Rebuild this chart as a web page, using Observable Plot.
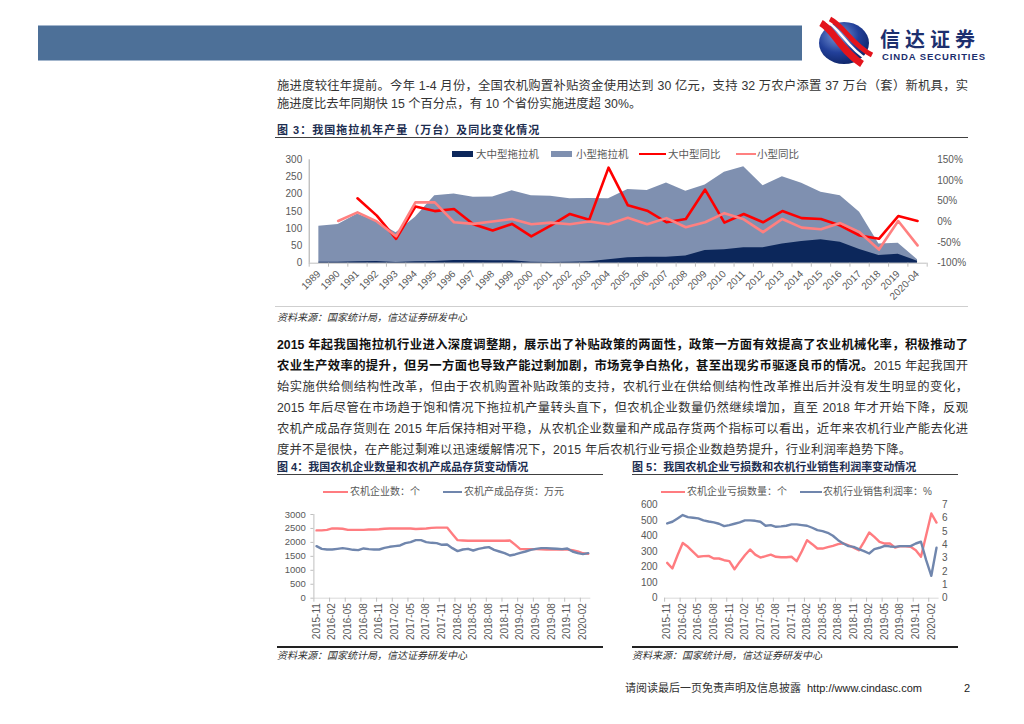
<!DOCTYPE html>
<html><head><meta charset="utf-8">
<script src="https://cdn.jsdelivr.net/npm/d3@7"></script>
<script src="https://cdn.jsdelivr.net/npm/@observablehq/plot@0.6"></script>
<style>
body{margin:0;background:#fff;width:1024px;height:724px;position:relative;overflow:hidden;font-family:"Liberation Sans","Noto Sans CJK SC",sans-serif;}
.abs{position:absolute;white-space:nowrap;}
.tl{position:absolute;left:277px;width:691px;height:16px;line-height:16px;font-size:12.3px;color:#333;text-align:justify;text-align-last:justify;overflow:visible;}
.tl.last{text-align-last:left;}
.tl b{color:#111;}
.ftitle{position:absolute;font-size:11px;font-weight:bold;color:#1c2d50;white-space:nowrap;line-height:14px;}
.src{position:absolute;font-size:10px;font-style:italic;color:#333;white-space:nowrap;line-height:12px;}
.lg{position:absolute;font-size:10px;color:#595959;white-space:nowrap;line-height:12px;}
.sw{position:absolute;}
svg{overflow:visible;}
</style></head><body>

<!-- header -->
<div class="abs" style="left:38px;top:25px;width:764px;height:34px;background:#4d7098;border-top:1px solid #a3b6cd;border-bottom:1px solid #a3b6cd;"></div>
<svg class="abs" style="left:812px;top:18px" width="190" height="50">
 <defs><radialGradient id="lg1" cx="38%" cy="32%" r="75%"><stop offset="0" stop-color="#7c9bd8"/><stop offset="0.55" stop-color="#22409a"/><stop offset="1" stop-color="#0c2262"/></radialGradient></defs>
 <ellipse cx="32" cy="25" rx="25" ry="21" fill="url(#lg1)"/>
 <path d="M9 5 C 22 12, 28 32, 50 46" stroke="#e3141c" stroke-width="7" fill="none"/>
 <path d="M14 3 C 28 10, 35 30, 56 42" stroke="#ffffff" stroke-width="2.5" fill="none"/>
 <path d="M18 1 C 32 8, 40 27, 60 37" stroke="#e3141c" stroke-width="5" fill="none"/>
 <text x="68" y="29" font-size="20" font-weight="bold" fill="#1c2f6e" font-family="Noto Sans CJK SC" letter-spacing="5">信达证券</text>
 <text x="70" y="42" font-size="9.5" font-weight="bold" fill="#1c2f6e" font-family="Liberation Sans" textLength="103">CINDA SECURITIES</text>
</svg>

<!-- paragraph 1 -->
<div class="tl" style="top:78px">施进度较往年提前。今年 1-4 月份，全国农机购置补贴资金使用达到 30 亿元，支持 32 万农户添置 37 万台（套）新机具，实</div>
<div class="tl last" style="top:96px">施进度比去年同期快 15 个百分点，有 10 个省份实施进度超 30%。</div>

<!-- figure 3 -->
<div class="ftitle" style="left:277px;top:123px;letter-spacing:1px">图 3：我国拖拉机年产量（万台）及同比变化情况</div>
<div class="abs" style="left:275px;top:137px;width:693px;height:1px;background:#404040"></div>
<div id="legend3"></div>
<div id="chart3" class="abs" style="left:270px;top:140px"></div>
<div class="abs" style="left:275px;top:306px;width:693px;height:1px;background:#cfcfcf"></div>
<div class="src" style="left:277px;top:312px">资料来源：国家统计局，信达证券研发中心</div>

<!-- paragraph 2 -->
<div class="tl" style="top:337px"><b>2015 年起我国拖拉机行业进入深度调整期，展示出了补贴政策的两面性，政策一方面有效提高了农业机械化率，积极推动了</b></div>
<div class="tl" style="top:358px"><b>农业生产效率的提升，但另一方面也导致产能过剩加剧，市场竞争白热化，甚至出现劣币驱逐良币的情况。</b>2015 年起我国开</div>
<div class="tl" style="top:379px">始实施供给侧结构性改革，但由于农机购置补贴政策的支持，农机行业在供给侧结构性改革推出后并没有发生明显的变化，</div>
<div class="tl" style="top:400px">2015 年后尽管在市场趋于饱和情况下拖拉机产量转头直下，但农机企业数量仍然继续增加，直至 2018 年才开始下降，反观</div>
<div class="tl" style="top:421px">农机产成品存货则在 2015 年后保持相对平稳，从农机企业数量和产成品存货两个指标可以看出，近年来农机行业产能去化进</div>
<div class="tl last" style="top:442px;letter-spacing:0.25px">度并不是很快，在产能过剩难以迅速缓解情况下，2015 年后农机行业亏损企业数趋势提升，行业利润率趋势下降。</div>

<!-- figure 4 -->
<div class="ftitle" style="left:277px;top:460px">图 4：我国农机企业数量和农机产成品存货变动情况</div>
<div class="abs" style="left:277px;top:474px;width:326px;height:1px;background:#404040"></div>
<div id="chart4" class="abs" style="left:270px;top:490px"></div>
<div id="legend4"></div>
<div class="abs" style="left:277px;top:646px;width:326px;height:2px;background:#222"></div>
<div class="src" style="left:277px;top:650px">资料来源：国家统计局，信达证券研发中心</div>

<!-- figure 5 -->
<div class="ftitle" style="left:632px;top:460px">图 5：我国农机企业亏损数和农机行业销售利润率变动情况</div>
<div class="abs" style="left:632px;top:474px;width:326px;height:1px;background:#404040"></div>
<div id="chart5" class="abs" style="left:625px;top:490px"></div>
<div id="legend5"></div>
<div class="abs" style="left:632px;top:646px;width:326px;height:2px;background:#222"></div>
<div class="src" style="left:632px;top:650px">资料来源：国家统计局，信达证券研发中心</div>

<!-- footer -->
<div class="abs" style="left:625px;top:681px;font-size:11px;color:#333;line-height:14px">请阅读最后一页免责声明及信息披露</div>
<div class="abs" style="left:807px;top:681px;font-size:11px;color:#222;line-height:14px">http://www.cindasc.com</div>
<div class="abs" style="left:964px;top:681px;font-size:11px;color:#222;line-height:14px">2</div>

<script>
// ---------- Figure 3 data ----------
const years = ["1989","1990","1991","1992","1993","1994","1995","1996","1997","1998","1999","2000","2001","2002","2003","2004","2005","2006","2007","2008","2009","2010","2011","2012","2013","2014","2015","2016","2017","2018","2019","2020-04"];
const smallTractors = [107,112,143,120,88,133,196,201,191,192,210,196,194,187,188,187,214,211,233,209,227,264,280,225,251,232,206,196,148,56,58,10];
const largeTractors = [3,3,4,5,2,4,5,8,8,7,7,3,2,3,4,10,16,17,17,21,37,39,45,45,56,63,68,61,40,22,26,6];
const largeYoY = [null,null,57,15,-41,37,26,31,-6,-21,-5,-35,-9,19,5,131,40,27,-1,7,78,-2,19,-1,26,9,7,-9,-33,-41,14,2];
const smallYoY = [null,2,23,1,-35,47,47,-1,-5,1,7,-6,-2,-6,1,-6,10,-6,9,-13,-1,21,6,-25,7,-14,-18,-3,-25,-67,2,-57];
const leftTicks3 = [0,50,100,150,200,250,300];
const rightTicks3 = [-100,-50,0,50,100,150];

// ---------- Figure 4 / 5 data ----------
const months = ["2015-11","2015-12","2016-01","2016-02","2016-03","2016-04","2016-05","2016-06","2016-07","2016-08","2016-09","2016-10","2016-11","2016-12",
"2017-01","2017-02","2017-03","2017-04","2017-05","2017-06","2017-07","2017-08","2017-09","2017-10","2017-11","2017-12",
"2018-01","2018-02","2018-03","2018-04","2018-05","2018-06","2018-07","2018-08","2018-09","2018-10","2018-11","2018-12",
"2019-01","2019-02","2019-03","2019-04","2019-05","2019-06","2019-07","2019-08","2019-09","2019-10","2019-11","2019-12",
"2020-01","2020-02","2020-03"];
const firmCount = [2430,2430,2450,2500,2500,2490,2450,2450,2450,2450,2460,2460,2470,2490,2500,2500,2500,2500,2500,2480,2490,2500,2520,2530,2530,2530,2300,2080,2070,2060,2060,2060,2060,2060,2060,2060,2060,2070,1920,1760,1760,1760,1760,1750,1740,1740,1740,1740,1740,1720,1680,1610,1590];
const inventory = [1866,1770,1746,1746,1770,1794,1770,1734,1722,1782,1758,1746,1746,1806,1842,1866,1890,1973,2009,2081,2081,2009,1985,1973,1914,1926,1794,1686,1746,1770,1710,1770,1806,1830,1734,1674,1615,1531,1567,1627,1674,1734,1770,1794,1794,1782,1770,1758,1782,1674,1615,1579,1615];
const lossFirms = [227,191,276,355,330,298,266,270,272,255,255,244,238,186,233,276,313,280,261,270,280,266,263,263,266,238,302,373,347,319,319,328,336,347,353,340,325,308,362,422,394,362,351,351,325,334,334,330,308,266,405,544,486];
const profitRate = [5.6,5.73,5.98,6.23,6.08,6.03,5.98,5.83,5.75,5.68,5.58,5.4,5.48,5.58,5.68,5.83,5.83,5.8,5.73,5.43,5.48,5.35,5.38,5.43,5.53,5.53,5.48,5.43,5.28,5.1,5.03,4.9,4.68,4.35,4.1,3.9,3.85,3.68,3.53,3.35,3.68,3.78,3.93,3.88,3.85,3.9,3.9,3.9,4.1,4.23,2.85,1.68,3.78];
const leftTicks4 = [0,500,1000,1500,2000,2500,3000];
const leftTicks5 = [0,100,200,300,400,500,600];
const rightTicks5 = [0,1,2,3,4,5,6,7];

const FONT = '"Liberation Sans", Arial, "Noto Sans CJK SC", sans-serif';
const TXT = "#595959";

// ---------- Figure 3 ----------
const rows3 = years.map((y, i) => ({i, small: smallTractors[i], large: largeTractors[i], ly: largeYoY[i], sy: smallYoY[i]}));
const pct = p => (p + 100) * 300 / 250;
const xd3 = [-0.5, years.length - 0.5];
const c3 = Plot.plot({
  width: 700, height: 170,
  marginLeft: 38.7, marginRight: 43.3, marginTop: 19.3, marginBottom: 47.3,
  x: {type: "linear", domain: xd3, label: null},
  y: {domain: [0, 300], label: null},
  style: {fontFamily: FONT, fontSize: "10px", color: TXT, background: "transparent", overflow: "visible"},
  marks: [
    Plot.areaY(rows3, {x: "i", y: "small", fill: "#7f90b0"}),
    Plot.areaY(rows3, {x: "i", y: "large", fill: "#0c275b"}),
    Plot.lineY(rows3.filter(d => d.ly != null), {x: "i", y: d => pct(d.ly), stroke: "#ff0000", strokeWidth: 2.6}),
    Plot.lineY(rows3.filter(d => d.sy != null), {x: "i", y: d => pct(d.sy), stroke: "#ff8080", strokeWidth: 2.6}),
    Plot.ruleY([0], {stroke: "#bfbfbf"}),
    Plot.ruleX([xd3[0]], {y1: 0, y2: 300, stroke: "#a6a6a6"}),
    Plot.axisY(leftTicks3, {anchor: "left", tickSize: 0, tickPadding: 7, label: null}),
    Plot.axisY(rightTicks3.map(pct), {anchor: "right", tickSize: 0, tickPadding: 10, label: null, tickFormat: v => Math.round(v * 250 / 300 - 100) + "%"}),
    Plot.axisX(d3.range(years.length), {anchor: "bottom", tickSize: 0, tickPadding: 9, tickRotate: -45, label: null, tickFormat: i => years[i]}),
    Plot.axisX(d3.range(years.length + 1).map(i => i - 0.5), {anchor: "bottom", tickSize: 4, stroke: "#bfbfbf", label: null, tickFormat: () => ""})
  ]
});
document.getElementById("chart3").appendChild(c3);

// ---------- Figure 4 ----------
const xd = [-0.5, months.length - 0.5];
const labelIdx = d3.range(0, months.length, 3);
const bndIdx = d3.range(0, months.length + 1, 3).map(i => i - 0.5);
const rows4 = months.map((m, i) => ({i, a: firmCount[i], b: inventory[i]}));
const c4 = Plot.plot({
  width: 340, height: 160,
  marginLeft: 43.4, marginRight: 19.7, marginTop: 24, marginBottom: 52.3,
  x: {type: "linear", domain: xd, label: null},
  y: {domain: [0, 3000], label: null},
  style: {fontFamily: FONT, fontSize: "10px", color: TXT, background: "transparent", overflow: "visible"},
  marks: [
    Plot.ruleY([0], {stroke: "#d9d9d9"}),
    Plot.ruleX([xd[0]], {y1: 0, y2: 3000, stroke: "#bfbfbf"}),
    Plot.lineY(rows4, {x: "i", y: "a", stroke: "#ff7c80", strokeWidth: 2.4}),
    Plot.lineY(rows4, {x: "i", y: "b", stroke: "#7086ad", strokeWidth: 2.4}),
    Plot.axisY(leftTicks4, {anchor: "left", tickSize: 3, tickPadding: 5, stroke: "#bfbfbf", label: null, fontSize: 9.5, tickFormat: v => String(v)}),
    Plot.axisX(labelIdx, {anchor: "bottom", tickSize: 0, tickPadding: 5, tickRotate: -90, label: null, tickFormat: i => months[i]}),
    Plot.axisX(bndIdx, {anchor: "bottom", tickSize: 4, stroke: "#bfbfbf", label: null, tickFormat: () => ""})
  ]
});
document.getElementById("chart4").appendChild(c4);

// ---------- Figure 5 ----------
const toLeft5 = v => v * 600 / 7;
const rows5 = months.map((m, i) => ({i, a: lossFirms[i], b: profitRate[i]}));
const c5 = Plot.plot({
  width: 340, height: 160,
  marginLeft: 39.1, marginRight: 26.4, marginTop: 14.3, marginBottom: 52.3,
  x: {type: "linear", domain: xd, label: null},
  y: {domain: [0, 600], label: null},
  style: {fontFamily: FONT, fontSize: "10px", color: TXT, background: "transparent", overflow: "visible"},
  marks: [
    Plot.ruleY([0], {stroke: "#d9d9d9"}),
    Plot.lineY(rows5, {x: "i", y: "a", stroke: "#ff7c80", strokeWidth: 2.4}),
    Plot.lineY(rows5, {x: "i", y: d => toLeft5(d.b), stroke: "#7086ad", strokeWidth: 2.4}),
    Plot.axisY(leftTicks5, {anchor: "left", tickSize: 0, tickPadding: 7, label: null, tickFormat: v => String(v)}),
    Plot.axisY(rightTicks5.map(toLeft5), {anchor: "right", tickSize: 0, tickPadding: 3, label: null, tickFormat: v => String(Math.round(v * 7 / 600))}),
    Plot.axisX(labelIdx, {anchor: "bottom", tickSize: 0, tickPadding: 5, tickRotate: -90, label: null, tickFormat: i => months[i]}),
    Plot.axisX(bndIdx, {anchor: "bottom", tickSize: 4, stroke: "#bfbfbf", label: null, tickFormat: () => ""})
  ]
});
document.getElementById("chart5").appendChild(c5);

// ---------- Legends (HTML) ----------
function legend(container, items) {
  const el = document.getElementById(container);
  for (const it of items) {
    const s = document.createElement("div");
    s.className = "sw";
    s.style.cssText = `left:${it.sx}px;top:${it.cy - it.h / 2}px;width:${it.w}px;height:${it.h}px;background:${it.color}`;
    el.appendChild(s);
    const t = document.createElement("div");
    t.className = "lg";
    t.style.cssText = `left:${it.tx}px;top:${it.cy - 6.5}px;font-size:${it.fs || 10}px`;
    t.textContent = it.label;
    el.appendChild(t);
  }
}
legend("legend3", [
  {sx: 452, w: 21, h: 5.5, color: "#0c275b", tx: 476, label: "大中型拖拉机", cy: 154, fs: 10.5},
  {sx: 551, w: 21, h: 5.5, color: "#7f90b0", tx: 576, label: "小型拖拉机", cy: 154, fs: 10.5},
  {sx: 639, w: 27, h: 2.6, color: "#ff0000", tx: 668, label: "大中型同比", cy: 154, fs: 10.5},
  {sx: 736, w: 20, h: 2.6, color: "#ff8080", tx: 757, label: "小型同比", cy: 154, fs: 10.5}
]);
legend("legend4", [
  {sx: 323, w: 25, h: 2.4, color: "#ff7c80", tx: 350, label: "农机企业数：个", cy: 492},
  {sx: 443, w: 19, h: 2.4, color: "#7086ad", tx: 464, label: "农机产成品存货：万元", cy: 492}
]);
legend("legend5", [
  {sx: 661, w: 24, h: 2.4, color: "#ff7c80", tx: 687, label: "农机企业亏损数量：个", cy: 492},
  {sx: 800, w: 22, h: 2.4, color: "#7086ad", tx: 823, label: "农机行业销售利润率：%", cy: 492}
]);
</script>
</body></html>
